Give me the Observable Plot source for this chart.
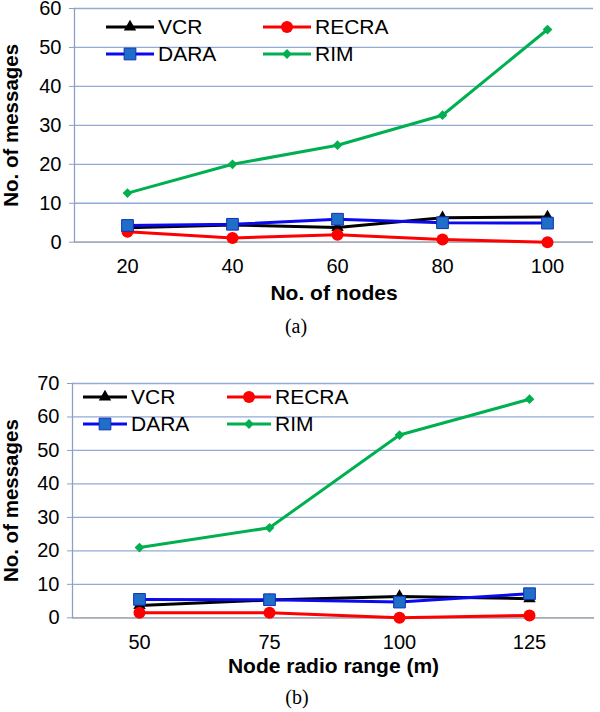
<!DOCTYPE html>
<html>
<head>
<meta charset="utf-8">
<script src="https://cdn.jsdelivr.net/npm/d3@7"></script>
<script src="https://cdn.jsdelivr.net/npm/@observablehq/plot@0.6"></script>
<style>
  html, body { margin: 0; padding: 0; background: #fff; }
  #wrap { position: relative; width: 600px; height: 712px; overflow: hidden; font-family: Arial, "Liberation Sans", sans-serif; }
  .chart { position: absolute; left: 0; }
  .cap { position: absolute; font-family: "Liberation Serif", "Times New Roman", serif; font-size: 20px; transform: translate(-50%, -50%); white-space: nowrap; }
  .leg { position: absolute; display: flex; align-items: center; transform: translateY(-50%); font-size: 21px; white-space: nowrap; color: #000; }
  .leg svg { display: block; }
</style>
</head>
<body>
<div id="wrap">
  <div id="chartA" class="chart" style="top:0"></div>
  <div id="chartB" class="chart" style="top:360px"></div>
  <div class="cap" style="left:296px; top:326px">(a)</div>
  <div class="cap" style="left:297px; top:697px">(b)</div>
</div>
<script>
// ---------- data ----------
const SERIES = ["VCR", "RECRA", "DARA", "RIM"];

const NODES_A = [20, 40, 60, 80, 100];
const VCR_A   = [3.7, 4.4, 3.8, 6.3, 6.5];
const RECRA_A = [2.7, 1.1, 1.9, 0.7, 0.0];
const DARA_A  = [4.3, 4.6, 5.9, 5.0, 4.9];
const RIM_A   = [12.6, 20.0, 24.9, 32.6, 54.6];
const YTICKS_A = [0, 10, 20, 30, 40, 50, 60];

const RANGE_B = [50, 75, 100, 125];
const VCR_B   = [3.7, 5.3, 6.4, 5.7];
const RECRA_B = [1.5, 1.5, 0.0, 0.7];
const DARA_B  = [5.5, 5.4, 4.7, 7.2];
const RIM_B   = [21.0, 26.9, 54.6, 65.3];
const YTICKS_B = [0, 10, 20, 30, 40, 50, 60, 70];

const YTITLE = "No. of messages";
const XTITLE_A = "No. of nodes";
const XTITLE_B = "Node radio range (m)";

// ---------- styles ----------
const STYLE = {
  VCR:   {line: "#000000", fill: "#000000", stroke: "none",    symbol: "triangle", r: 4.6},
  RECRA: {line: "#FF0000", fill: "#FF0000", stroke: "none",    symbol: "circle",   r: 6},
  DARA:  {line: "#0A0AEE", fill: "#1F6FC8", stroke: "#1030B8", symbol: "square",   r: 6.6},
  RIM:   {line: "#00B050", fill: "#00B050", stroke: "none",    symbol: "diamond2", r: 4.4}
};
const GRID = "#93AAD6";
const YAXIS = "#8E9FC0";
const XAXIS = "#A6A6A6";
const FONT = "Arial, 'Liberation Sans', sans-serif";

function rowsFor(xs, valsBySeries) {
  const out = [];
  SERIES.forEach(s => xs.forEach((x, i) => out.push({series: s, x, v: valsBySeries[s][i]})));
  return out;
}

function makeChart(cfg) {
  const {xs, vals, yTicks, yMax, height, marginTop, plotBottom, marginLeft, marginRight, insetRight, xTickPad, xTitle, xTitleDy, yTitleDx} = cfg;
  const data = rowsFor(xs, vals);
  const seriesMarks = [];
  SERIES.forEach(s => {
    const st = STYLE[s];
    const d = data.filter(r => r.series === s);
    seriesMarks.push(Plot.line(d, {x: "x", y: "v", stroke: st.line, strokeWidth: 3, strokeLinejoin: "round"}));
  });
  SERIES.forEach(s => {
    const st = STYLE[s];
    const d = data.filter(r => r.series === s);
    seriesMarks.push(Plot.dot(d, {x: "x", y: "v", symbol: st.symbol, r: st.r, fill: st.fill, stroke: st.stroke, strokeWidth: 1}));
  });
  return Plot.plot({
    width: 600,
    height,
    marginTop,
    marginBottom: height - plotBottom,
    marginLeft,
    marginRight,
    style: {fontFamily: FONT, background: "transparent", overflow: "visible", color: "#000"},
    x: {type: "point", domain: xs, padding: 0.5, insetRight},
    y: {domain: [0, yMax]},
    marks: [
      Plot.gridY(yTicks, {stroke: GRID, strokeOpacity: 1, strokeWidth: 1.3}),
      Plot.frame({anchor: "left", stroke: YAXIS, strokeWidth: 1.3}),
      Plot.ruleY([0], {stroke: XAXIS, strokeWidth: 1.3}),
      Plot.axisY({ticks: yTicks, tickSize: 5, tickPadding: 8, fontSize: 20, label: null, stroke: YAXIS, fill: "#000"}),
      Plot.axisX({tickSize: 0, tickPadding: xTickPad, fontSize: 20, label: null, fill: "#000"}),
      Plot.text([xTitle], {text: d => d, frameAnchor: "bottom", lineAnchor: "middle", textAnchor: "middle", dy: xTitleDy, fontSize: 21, fontWeight: "bold", fill: "#000"}),
      Plot.text([YTITLE], {text: d => d, frameAnchor: "left", lineAnchor: "middle", textAnchor: "middle", dx: yTitleDx, rotate: -90, fontSize: 20.5, fontWeight: "bold", fill: "#000"}),
      ...seriesMarks
    ]
  });
}

const chartA = makeChart({
  xs: NODES_A,
  vals: {VCR: VCR_A, RECRA: RECRA_A, DARA: DARA_A, RIM: RIM_A},
  yTicks: YTICKS_A, yMax: 60,
  height: 330, marginTop: 8, plotBottom: 241.7,
  marginLeft: 74, marginRight: 7, insetRight: -6,
  xTickPad: 17, xTitle: XTITLE_A, xTitleDy: 51, yTitleDx: -63
});
document.getElementById("chartA").appendChild(chartA);

const chartB = makeChart({
  xs: RANGE_B,
  vals: {VCR: VCR_B, RECRA: RECRA_B, DARA: DARA_B, RIM: RIM_B},
  yTicks: YTICKS_B, yMax: 70,
  height: 330, marginTop: 23, plotBottom: 257.3,
  marginLeft: 72, marginRight: 6, insetRight: -1,
  xTickPad: 17, xTitle: XTITLE_B, xTitleDy: 48, yTitleDx: -61
});
document.getElementById("chartB").appendChild(chartB);

// ---------- legends (inside plot areas) ----------
function legendItem(name, left, top, lineW) {
  const st = STYLE[name];
  const div = document.createElement("div");
  div.className = "leg";
  div.style.left = left + "px";
  div.style.top = top + "px";
  const h = 16;
  const svg = d3.create("svg").attr("width", lineW).attr("height", h);
  svg.append("line").attr("x1", 0).attr("x2", lineW).attr("y1", h / 2).attr("y2", h / 2)
     .attr("stroke", st.line).attr("stroke-width", 3);
  const symMap = {triangle: d3.symbolTriangle, circle: d3.symbolCircle, square: d3.symbolSquare, diamond2: d3.symbolDiamond2};
  svg.append("path").attr("d", d3.symbol(symMap[st.symbol], Math.PI * st.r * st.r)())
     .attr("transform", `translate(${lineW / 2},${h / 2})`)
     .attr("fill", st.fill).attr("stroke", st.stroke === "none" ? null : st.stroke);
  div.appendChild(svg.node());
  const t = document.createElement("span");
  t.textContent = name;
  t.style.marginLeft = "4px";
  div.appendChild(t);
  document.getElementById("wrap").appendChild(div);
}
// chart (a)
legendItem("VCR",   106, 26.7, 48);
legendItem("RECRA", 263, 26.7, 48);
legendItem("DARA",  106, 54,   48);
legendItem("RIM",   263, 54,   48);
// chart (b)
legendItem("VCR",   83,  397, 44);
legendItem("RECRA", 227, 397, 44);
legendItem("DARA",  83,  424, 44);
legendItem("RIM",   227, 424, 44);
</script>
</body>
</html>
